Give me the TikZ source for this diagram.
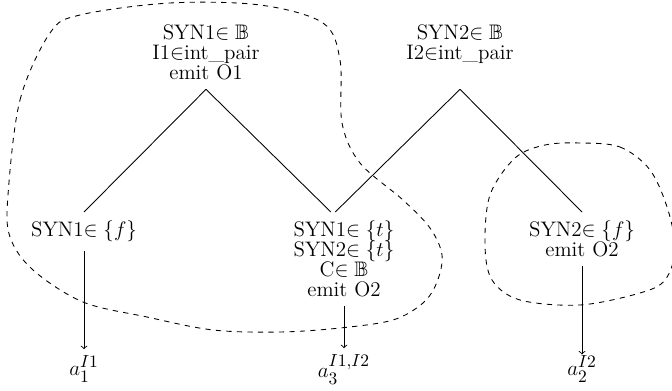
\documentclass[tikz,border=0pt]{standalone}
\usepackage{amssymb}
\DeclareMathSizes{12}{12}{10}{7}
\newcommand\nodefnt{\fontsize{12}{11.4}\selectfont\lineskiplimit-20pt\relax}
\newcommand\labfnt{\fontsize{12}{14}\selectfont}
\begin{document}
\begin{tikzpicture}[x=0.5714pt,y=-0.5714pt,
  txt/.style={inner xsep=0pt, inner ysep=5pt, align=center, anchor=north,
    font=\nodefnt},
  lab/.style={anchor=base, font=\labfnt},
  edge/.style={line width=0.5pt},
  blob/.style={dashed, line width=0.5pt},
  arr/.style={->, line width=0.5pt}]
\useasboundingbox (0,0) rectangle (672,390);
\clip (0,0) rectangle (672,390);
% nodes
\node[txt] (r1) at (206,16) {SYN1$\in\mathbb{B}$\\I1$\in$int\_pair\\emit O1};
\node[txt] (r2) at (460,16) {SYN2$\in\mathbb{B}$\\I2$\in$int\_pair};
\coordinate (t2) at (r2.south |- r1.south);
\node[txt] (l1) at (84,212) {SYN1$\in\{f\}$};
\node[txt] (l2) at (344,212) {SYN1$\in\{t\}$\\SYN2$\in\{t\}$\\C$\in\mathbb{B}$\\emit O2};
\node[txt] (l3) at (582,212) {SYN2$\in\{f\}$\\emit O2};
\coordinate (l2a) at ([xshift=-7.5pt]l2.north);
\coordinate (l2b) at ([xshift=-5pt]l2.north);
\node[lab] (a1) at (84,375) {$a_1^{I1}$};
\node[lab] (a3) at (344,377) {$a_3^{I1,I2}$};
\node[lab] (a2) at (582,375) {$a_2^{I2}$};
% tree edges
\draw[edge] (r1.south) -- (l1.north);
\draw[edge] (r1.south) -- (l2a);
\draw[edge] (t2) -- (l2b);
\draw[edge] (t2) -- (l3.north);
% arrows
\draw[arr] (l1.south) -- (l1.south |- a1.north);
\draw[arr] (l2.south) -- (l2.south |- a3.north);
\draw[arr, shorten >=-3pt] (l3.south) -- (l3.south |- a2.north);
% dashed regions
\draw[blob] plot[smooth cycle, tension=0.55] coordinates {
  (8,195) (20,100) (50,33) (80,15) (170,3) (260,5) (323,23) (340,60)
  (342,123) (360,163) (403,200) (430,228) (442,255) (437,282) (423,303)
  (393,320) (340,328) (280,332) (213,330) (147,317) (83,302) (33,270) (10,237)};
\draw[blob] plot[smooth cycle, tension=0.55] coordinates {
  (580,143) (620,147) (650,170) (668,210) (675,250) (665,280) (640,293)
  (580,305) (520,300) (492,280) (485,245) (490,195) (515,158) (545,145)};
\end{tikzpicture}
\end{document}
